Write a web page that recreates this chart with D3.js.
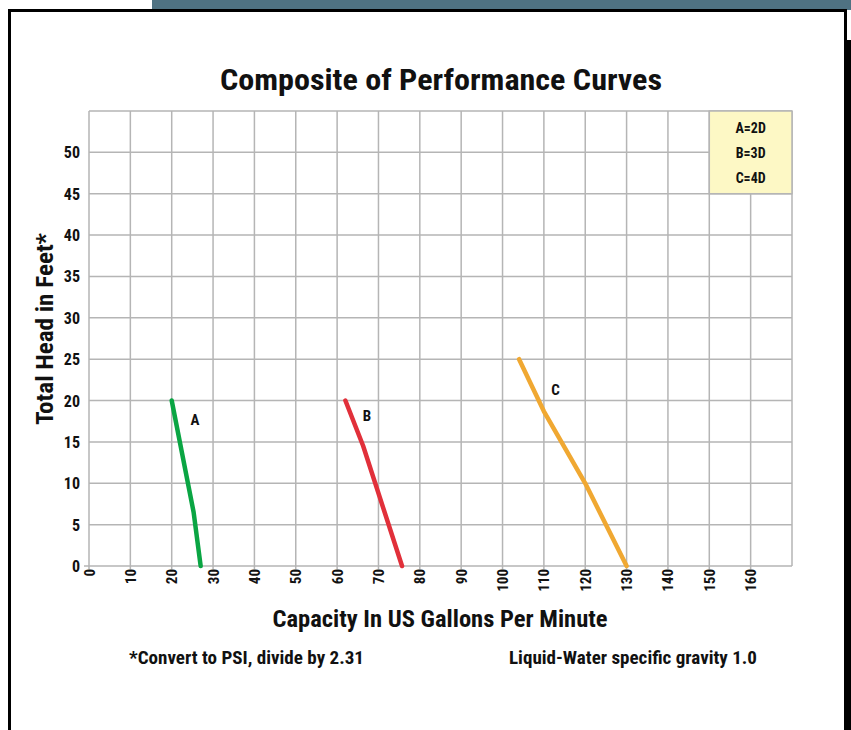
<!DOCTYPE html>
<meta charset="utf-8">
<title>Composite of Performance Curves</title>
<style>
  body { margin: 0; background: #fff; }
  text { font-family: "Liberation Sans Narrow", "Roboto Condensed", "DejaVu Sans Condensed", sans-serif; font-weight: bold; fill: #111; }
</style>
<body>
<div id="chart"></div>
<script src="https://d3js.org/d3.v7.min.js"></script>
<script>

// tick labels
var xTicks = [0, 10, 20, 30, 40, 50, 60, 70, 80, 90, 100, 110, 120, 130, 140, 150, 160];
var yTicks = [0, 5, 10, 15, 20, 25, 30, 35, 40, 45, 50];

// curves: [gpm, feet]
var curveA = [[20, 20], [25.3, 6.5], [27, 0]];
var curveB = [[62, 20], [66.3, 14.5], [75.7, 0]];
var curveC = [[104, 25], [110, 18.7], [120, 10], [130, 0]];

var curveNames = ["A", "B", "C"];
var curveColors = ["#0aa543", "#e1303a", "#f0a832"];
var labelPos = [[25.6, 17.7], [67.2, 18.2], [112.8, 21.3]];  // where the letter sits, in data units
var legendLines = ["A=2D", "B=3D", "C=4D"];

var W = 851, H = 730;
var svg = d3.select("#chart").append("svg")
    .attr("width", W)
    .attr("height", H);

// page frame
svg.append("rect").attr("x", 152).attr("y", 0).attr("width", W - 152).attr("height", 10).attr("fill", "#4f7282");
svg.append("rect").attr("x", 845).attr("y", 40).attr("width", 6).attr("height", H - 40).attr("fill", "#000");
svg.append("path")
    .attr("d", "M9.5," + H + "V10.5H845.5V" + H)
    .attr("fill", "none").attr("stroke", "#000").attr("stroke-width", 3);

var x = d3.scaleLinear().domain([0, 170]).range([89, 792]);
var y = d3.scaleLinear().domain([0, 55]).range([566, 111]);

var grid = svg.append("g").attr("stroke", "#b5b5b5").attr("stroke-width", 1.5);

// vertical lines (every 10) incl. small tick under the axis
grid.selectAll(".vx").data(xTicks.concat([170])).enter().append("line")
    .attr("x1", function(d) { return x(d); }).attr("x2", function(d) { return x(d); })
    .attr("y1", y(55)).attr("y2", function(d) { return d < 170 ? y(0) + 3 : y(0); });

// horizontal lines (every 5)
grid.selectAll(".hy").data(yTicks.concat([55])).enter().append("line")
    .attr("x1", function(d) { return d === 0 ? x(0) - 5 : x(0); }).attr("x2", x(170))
    .attr("y1", function(d) { return y(d); }).attr("y2", function(d) { return y(d); });

// y tick labels
svg.selectAll(".ylab").data(yTicks).enter().append("text")
    .attr("x", 80).attr("y", function(d) { return y(d) + 6; })
    .attr("text-anchor", "end").attr("font-size", 16)
    .text(function(d) { return d; });

// x tick labels (rotated)
svg.selectAll(".xlab").data(xTicks).enter().append("text")
    .attr("transform", function(d) { return "translate(" + (x(d) + 5.5) + "," + 569 + ") rotate(-90)"; })
    .attr("text-anchor", "end").attr("font-size", 15)
    .text(function(d) { return d; });

// legend box
svg.append("rect")
    .attr("x", x(150)).attr("y", y(55))
    .attr("width", x(170) - x(150)).attr("height", y(45) - y(55))
    .attr("fill", "#fdf8c5").attr("stroke", "#b5b5b5").attr("stroke-width", 1.5);
svg.selectAll(".leg").data(legendLines).enter().append("text")
    .attr("x", x(160)).attr("y", function(d, i) { return 133 + i * 25; })
    .attr("text-anchor", "middle").attr("font-size", 14)
    .text(function(d) { return d; });

// curves
var line = d3.line().x(function(d) { return x(d[0]); }).y(function(d) { return y(d[1]); });
[curveA, curveB, curveC].forEach(function(c, i) {
  svg.append("path")
      .attr("d", line(c))
      .attr("fill", "none")
      .attr("stroke", curveColors[i])
      .attr("stroke-width", 4.5)
      .attr("stroke-linecap", "round")
      .attr("stroke-linejoin", "round");
  svg.append("text")
      .attr("x", x(labelPos[i][0])).attr("y", y(labelPos[i][1]) + 5.5)
      .attr("text-anchor", "middle").attr("font-size", 15)
      .text(curveNames[i]);
});

// titles
svg.append("text").attr("x", 441).attr("y", 90).attr("text-anchor", "middle")
    .attr("font-size", 30).attr("textLength", 442).attr("lengthAdjust", "spacingAndGlyphs")
    .text("Composite of Performance Curves");
svg.append("text").attr("x", 440).attr("y", 627).attr("text-anchor", "middle")
    .attr("font-size", 23).attr("textLength", 335).attr("lengthAdjust", "spacingAndGlyphs")
    .text("Capacity In US Gallons Per Minute");
svg.append("text").attr("transform", "translate(53,329) rotate(-90)").attr("text-anchor", "middle")
    .attr("font-size", 23).attr("textLength", 192).attr("lengthAdjust", "spacingAndGlyphs")
    .text("Total Head in Feet*");
svg.append("text").attr("x", 129).attr("y", 664).attr("font-size", 18)
    .attr("textLength", 235).attr("lengthAdjust", "spacingAndGlyphs")
    .text("*Convert to PSI, divide by 2.31");
svg.append("text").attr("x", 509).attr("y", 664).attr("font-size", 18)
    .attr("textLength", 248).attr("lengthAdjust", "spacingAndGlyphs")
    .text("Liquid-Water specific gravity 1.0");

</script>
</body>
